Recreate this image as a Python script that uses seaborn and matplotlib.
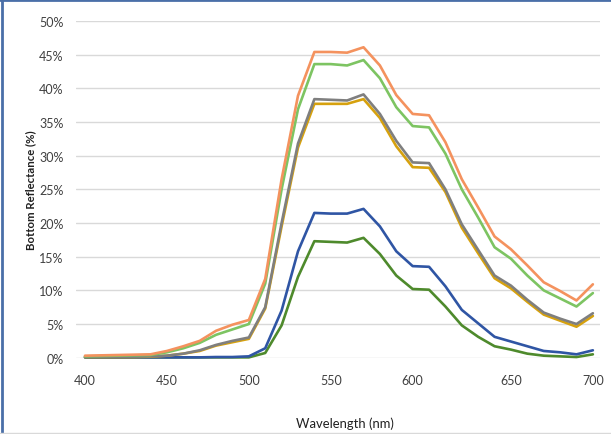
import numpy as np
import pandas as pd
import matplotlib
matplotlib.use("Agg")
import matplotlib.pyplot as plt
from matplotlib.lines import Line2D
import seaborn as sns

# Wavelength categories (nm) - plotted on an evenly spaced category axis
wavelengths = [400, 410, 420, 430, 440, 450, 460, 470, 480, 490, 500,
               510, 520, 530, 540, 550, 560, 570, 580, 590, 600,
               610, 620, 630, 640, 645, 650, 660, 670, 680, 690, 700]
tick_labels = ["400", "450", "500", "550", "600", "650", "700"]

orange = [0.3, 0.35, 0.4, 0.45, 0.5, 1.0, 1.7, 2.5, 4.0, 4.9, 5.6,
          11.7, 26.5, 38.9, 45.4, 45.4, 45.3, 46.1, 43.4, 39.0, 36.2,
          36.0, 32.0, 26.5, 22.3, 18.0, 16.1, 13.7, 11.2, 9.9, 8.5, 10.9]
light_green = [0.2, 0.25, 0.3, 0.35, 0.4, 0.8, 1.4, 2.2, 3.4, 4.2, 5.0,
               11.0, 25.0, 36.9, 43.6, 43.6, 43.4, 44.2, 41.5, 37.2, 34.4,
               34.2, 30.3, 25.0, 20.8, 16.4, 14.7, 12.2, 10.0, 8.8, 7.6, 9.6]
gray = [0.15, 0.15, 0.15, 0.15, 0.2, 0.3, 0.6, 1.1, 1.9, 2.5, 3.0,
        7.5, 20.0, 31.8, 38.4, 38.3, 38.2, 39.1, 36.2, 32.2, 29.0,
        28.9, 25.0, 19.8, 16.0, 12.2, 10.7, 8.6, 6.7, 5.8, 5.0, 6.6]
gold = [0.1, 0.1, 0.1, 0.1, 0.15, 0.3, 0.6, 1.0, 1.8, 2.3, 2.8,
        7.3, 19.5, 31.2, 37.7, 37.7, 37.7, 38.4, 35.6, 31.4, 28.3,
        28.2, 24.6, 19.3, 15.5, 11.8, 10.3, 8.3, 6.4, 5.5, 4.6, 6.2]
blue = [0.05, 0.05, 0.05, 0.05, 0.05, 0.05, 0.05, 0.05, 0.1, 0.1, 0.2,
        1.4, 7.0, 15.8, 21.5, 21.4, 21.4, 22.1, 19.5, 15.8, 13.6,
        13.5, 10.6, 7.1, 5.1, 3.1, 2.4, 1.7, 1.0, 0.8, 0.5, 1.1]
dark_green = [0.05, 0.05, 0.05, 0.05, 0.05, 0.05, 0.05, 0.05, 0.05, 0.05, 0.05,
              0.7, 4.8, 12.0, 17.3, 17.2, 17.1, 17.8, 15.4, 12.2, 10.2,
              10.1, 7.6, 4.8, 3.1, 1.7, 1.2, 0.6, 0.3, 0.2, 0.1, 0.5]

series = {
    "dark_green": dark_green,
    "blue": blue,
    "gold": gold,
    "gray": gray,
    "light_green": light_green,
    "orange": orange,
}
palette = {
    "orange": "#F4925E",
    "light_green": "#7DC462",
    "gray": "#7F7F7F",
    "gold": "#D6A10E",
    "blue": "#2F55A4",
    "dark_green": "#4E8A2C",
}

pos = list(range(len(wavelengths)))
rows = []
for name, vals in series.items():
    for p, w, v in zip(pos, wavelengths, vals):
        rows.append({"pos": p, "wavelength": w, "reflectance": v, "series": name})
df = pd.DataFrame(rows)

sns.set_theme(style="white")
plt.rcParams["font.family"] = ["Lato", "DejaVu Sans"]

fig = plt.figure(figsize=(6.11, 4.35), dpi=100)
ax = fig.add_axes([0.1244, 0.1754, 0.858, 0.774])

sns.lineplot(data=df, x="pos", y="reflectance", hue="series", palette=palette,
             hue_order=list(series.keys()), linewidth=1.9, legend=False, ax=ax,
             clip_on=False, zorder=3)

ax.set_xlim(-0.55, 31.45)
ax.set_ylim(0, 50)
ax.set_yticks(np.arange(0, 51, 5))
ax.set_yticklabels([f"{v}%" for v in range(0, 51, 5)])
tick_pos = [wavelengths.index(int(t)) for t in tick_labels]
ax.set_xticks(tick_pos)
ax.set_xticklabels(tick_labels)
ax.yaxis.grid(True, color="#D9D9D9", linewidth=1.0, zorder=0)
ax.xaxis.grid(False)
for s in ax.spines.values():
    s.set_visible(False)
ax.tick_params(axis="both", length=0, labelsize=9, labelcolor="#404040")
ax.tick_params(axis="y", pad=9)
ax.tick_params(axis="x", pad=12)

ax.set_xlabel("Wavelength (nm)", fontsize=9.4, color="#202020")
ax.xaxis.label.set_va("center")
ax.xaxis.set_label_coords(0.513, -0.194)
ax.set_ylabel("Bottom Reflectance (%)", fontsize=8.2, fontweight="bold",
              color="#202020")
ax.yaxis.label.set_va("center")
ax.yaxis.set_label_coords(-0.086, 0.5)

# figure frame (left and top blue borders)
fig.add_artist(Line2D([0.004, 0.004], [0, 1], transform=fig.transFigure,
                      color="#4A6FA8", linewidth=2))
fig.add_artist(Line2D([0, 1], [0.998, 0.998], transform=fig.transFigure,
                      color="#4A6FA8", linewidth=2))
fig.add_artist(Line2D([0, 1], [0.003, 0.003], transform=fig.transFigure,
                      color="#D9D9D9", linewidth=1))

fig.savefig("out.png", dpi=100)
